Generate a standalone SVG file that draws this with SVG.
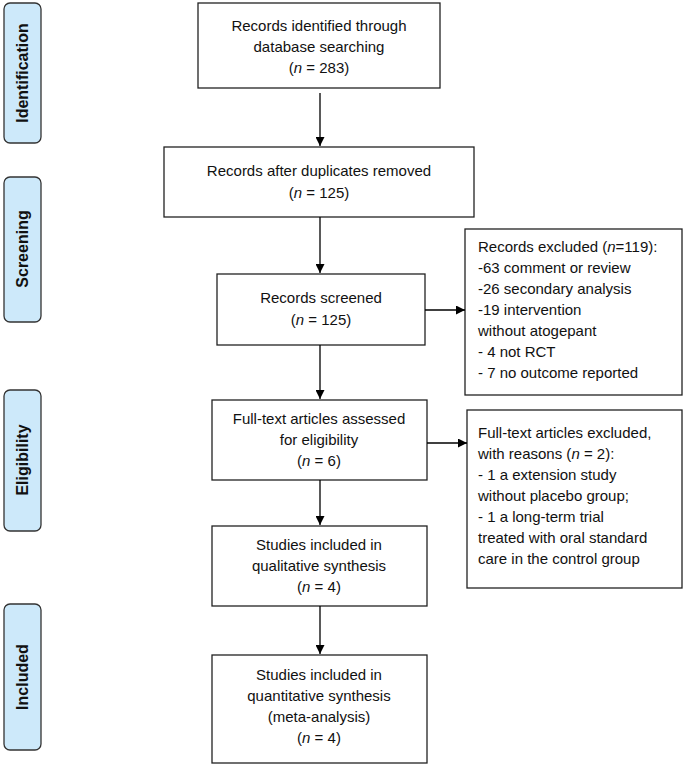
<svg xmlns="http://www.w3.org/2000/svg" width="685" height="773" viewBox="0 0 685 773">
<defs>
<marker id="ah" viewBox="0 0 10 10" refX="10" refY="5" markerWidth="9" markerHeight="9" markerUnits="userSpaceOnUse" orient="auto"><path d="M0,0L10,5L0,10z" fill="#000"/></marker>
<style>
.box{fill:#fff;stroke:#222;stroke-width:1.3}
.lab{fill:#cde9fa;stroke:#333;stroke-width:1.3}
text{font-family:"Liberation Sans",Arial,sans-serif;font-size:15px;fill:#111}
.c{text-anchor:middle}
.side{font-weight:bold;font-size:16px;text-anchor:middle}
.con{stroke:#000;stroke-width:1.3;fill:none;marker-end:url(#ah)}
</style>
</defs>
<rect width="685" height="773" fill="#fff"/>
<g id="lab-identification"><rect class="lab" x="4" y="3" width="37" height="140" rx="6"/><text class="side" transform="translate(28,73) rotate(-90)">Identification</text></g>
<g id="lab-screening"><rect class="lab" x="4" y="177" width="37" height="145" rx="6"/><text class="side" transform="translate(28,249) rotate(-90)">Screening</text></g>
<g id="lab-eligibility"><rect class="lab" x="4" y="390" width="37" height="141" rx="6"/><text class="side" transform="translate(28,460) rotate(-90)">Eligibility</text></g>
<g id="lab-included"><rect class="lab" x="4" y="604" width="37" height="146" rx="6"/><text class="side" transform="translate(28,677) rotate(-90)">Included</text></g>

<g id="n1"><rect class="box" x="198" y="3" width="242" height="85"/><text class="c" x="319" y="31">Records identified through</text><text class="c" x="319" y="52">database searching</text><text class="c" x="319" y="73">(<tspan font-style="italic">n</tspan> = 283)</text></g>
<g id="n2"><rect class="box" x="164" y="147" width="310" height="70"/><text class="c" x="319" y="176">Records after duplicates removed</text><text class="c" x="319" y="198">(<tspan font-style="italic">n</tspan> = 125)</text></g>
<g id="n3"><rect class="box" x="217" y="274" width="208" height="71"/><text class="c" x="321" y="303">Records screened</text><text class="c" x="321" y="325">(<tspan font-style="italic">n</tspan> = 125)</text></g>
<g id="n4"><rect class="box" x="212" y="400" width="215" height="80"/><text class="c" x="319" y="424">Full-text articles assessed</text><text class="c" x="319" y="445">for eligibility</text><text class="c" x="319" y="466">(<tspan font-style="italic">n</tspan> = 6)</text></g>
<g id="n5"><rect class="box" x="212" y="526" width="215" height="80"/><text class="c" x="319" y="550">Studies included in</text><text class="c" x="319" y="571">qualitative synthesis</text><text class="c" x="319" y="592">(<tspan font-style="italic">n</tspan> = 4)</text></g>
<g id="n6"><rect class="box" x="212" y="655" width="215" height="108"/><text class="c" x="319" y="680">Studies included in</text><text class="c" x="319" y="701">quantitative synthesis</text><text class="c" x="319" y="722">(meta-analysis)</text><text class="c" x="319" y="743">(<tspan font-style="italic">n</tspan> = 4)</text></g>
<g id="x1"><rect class="box" x="465" y="229" width="217" height="166"/>
<text x="478" y="252">Records excluded (<tspan font-style="italic">n</tspan>=119):</text>
<text x="478" y="273">-63 comment or review</text>
<text x="478" y="294">-26 secondary analysis</text>
<text x="478" y="315">-19 intervention</text>
<text x="478" y="336">without atogepant</text>
<text x="478" y="357">- 4 not RCT</text>
<text x="478" y="378">- 7 no outcome reported</text></g>
<g id="x2"><rect class="box" x="467" y="410" width="215" height="178"/>
<text x="478" y="438">Full-text articles excluded,</text>
<text x="478" y="459">with reasons (<tspan font-style="italic">n</tspan> = 2):</text>
<text x="478" y="480">- 1 a extension study</text>
<text x="478" y="501">without placebo group;</text>
<text x="478" y="522">- 1 a long-term trial</text>
<text x="478" y="543">treated with oral standard</text>
<text x="478" y="564">care in the control group</text></g>
<g id="connectors">
<line class="con" x1="320" y1="93" x2="320" y2="146"/>
<line class="con" x1="320" y1="217" x2="320" y2="273"/>
<line class="con" x1="320" y1="345" x2="320" y2="399"/>
<line class="con" x1="320" y1="480" x2="320" y2="525"/>
<line class="con" x1="320" y1="606" x2="320" y2="654"/>
<line class="con" x1="425" y1="310" x2="465" y2="310"/>
<line class="con" x1="427" y1="443" x2="467" y2="443"/>
</g>
</svg>
